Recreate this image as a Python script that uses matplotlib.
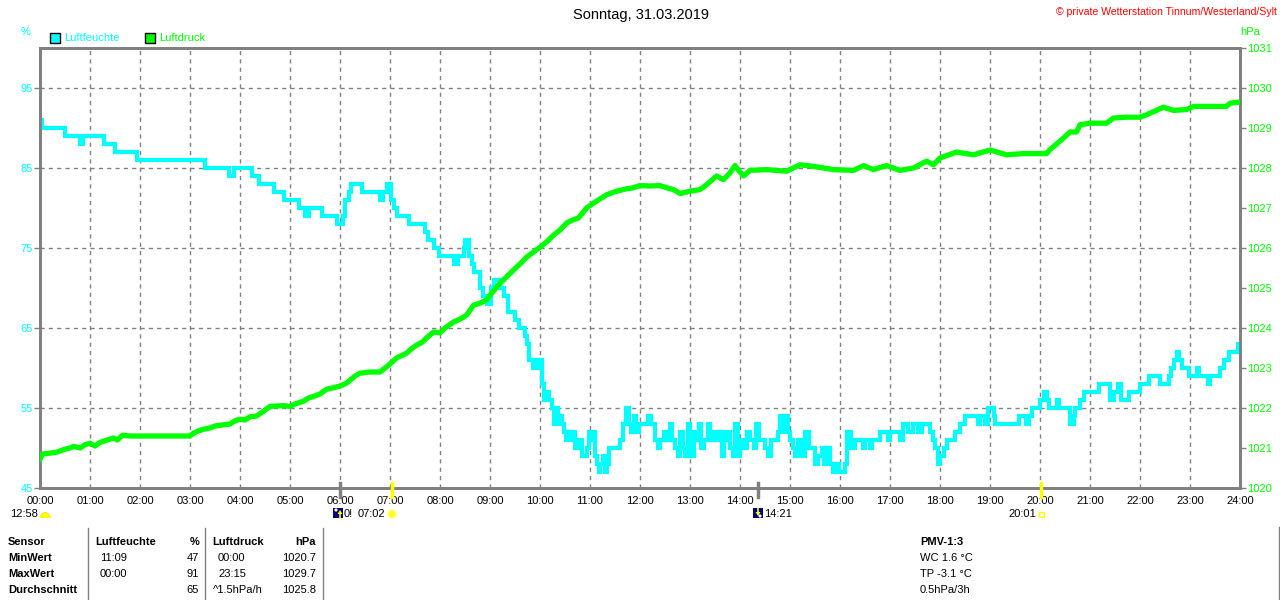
import matplotlib
matplotlib.use("Agg")
import matplotlib.pyplot as plt
from matplotlib.patches import Rectangle, Wedge, Circle, Polygon
import numpy as np

plt.rcParams['font.family'] = ['Liberation Sans', 'DejaVu Sans']

# ---------------- data ----------------
hum_t = [0.0, 0.03, 0.5, 0.8, 0.86, 1.27, 1.5, 1.57, 1.93, 3.3, 3.77, 3.87, 4.23, 4.37, 4.67,
         4.87, 5.17, 5.3, 5.37, 5.63, 5.93, 6.05, 6.1, 6.17, 6.22, 6.44, 6.8, 6.85, 6.93, 7.02,
         7.07, 7.13, 7.37, 7.7, 7.75, 7.87, 7.97, 8.28, 8.35, 8.47, 8.5, 8.58, 8.63, 8.67, 8.8,
         8.87, 8.93, 9.03, 9.07, 9.2, 9.27, 9.35, 9.5, 9.57, 9.7, 9.73, 9.78, 9.85, 9.88, 9.95,
         10.0, 10.03, 10.07, 10.1, 10.17, 10.23, 10.27, 10.3, 10.35, 10.4, 10.43, 10.47, 10.52,
         10.55, 10.6, 10.65, 10.7, 10.77, 10.83, 10.93, 10.97, 11.0, 11.05, 11.1, 11.13, 11.17,
         11.2, 11.25, 11.3, 11.33, 11.37, 11.6, 11.65, 11.72, 11.78, 11.82, 11.87, 11.92, 11.97,
         12.15, 12.22, 12.3, 12.35, 12.4, 12.47, 12.52, 12.6, 12.63, 12.7, 12.75, 12.8, 12.85,
         12.9, 12.95, 13.0, 13.03, 13.08, 13.12, 13.17, 13.22, 13.28, 13.35, 13.4, 13.45, 13.5,
         13.57, 13.63, 13.68, 13.72, 13.8, 13.85, 13.9, 13.95, 14.0, 14.07, 14.13, 14.2, 14.27,
         14.32, 14.37, 14.5, 14.55, 14.62, 14.75, 14.8, 14.85, 14.9, 14.95, 15.0, 15.05, 15.1,
         15.15, 15.22, 15.3, 15.37, 15.5, 15.55, 15.63, 15.68, 15.75, 15.8, 15.85, 15.92, 15.97,
         16.1, 16.15, 16.22, 16.3, 16.45, 16.5, 16.6, 16.65, 16.8, 16.95, 17.0, 17.2, 17.25,
         17.35, 17.45, 17.55, 17.65, 17.8, 17.85, 17.9, 17.95, 18.0, 18.07, 18.15, 18.3, 18.4,
         18.5, 18.75, 18.8, 18.9, 18.95, 19.07, 19.1, 19.57, 19.72, 19.77, 19.83, 20.0, 20.07,
         20.13, 20.17, 20.33, 20.37, 20.6, 20.67, 20.7, 20.8, 20.87, 21.17, 21.4, 21.47, 21.55,
         21.62, 21.77, 22.0, 22.17, 22.4, 22.57, 22.62, 22.67, 22.73, 22.78, 22.83, 22.97, 23.13,
         23.17, 23.35, 23.4, 23.6, 23.67, 23.77, 23.95, 24.0]
hum_v = [91, 90, 89, 88, 89, 88, 87, 87, 86, 85, 84, 85, 84, 83, 82,
         81, 80, 79, 80, 79, 78, 79, 81, 82, 83, 82, 81, 82, 83, 81,
         80, 79, 78, 77, 76, 75, 74, 73, 74, 75, 76, 74, 73, 72, 70,
         69, 68, 70, 71, 70, 69, 67, 66, 65, 64, 63, 61, 60, 61, 60,
         61, 58, 56, 57, 56, 55, 53, 55, 53, 54, 53, 52, 51,
         52, 51, 52, 50, 51, 49, 50, 52, 51, 52, 49, 48, 47,
         48, 49, 47, 48, 50, 51, 53, 55, 53, 52, 54, 52, 53,
         54, 53, 51, 50, 51, 52, 51, 53, 51, 50, 49, 52, 50,
         49, 53, 50, 49, 52, 51, 53, 50, 51, 53, 51, 52, 51,
         52, 49, 51, 52, 50, 49, 53, 49, 51, 50, 52, 51, 50,
         53, 51, 50, 49, 51, 52, 54, 52, 54, 52, 51, 50, 49,
         51, 49, 52, 50, 48, 49, 50, 48, 50, 48, 47, 48, 47,
         48, 52, 50, 51, 50, 51, 50, 51, 52, 51, 52, 51, 53,
         52, 53, 52, 53, 52, 51, 50, 48, 49, 50, 51, 52, 53,
         54, 53, 54, 53, 55, 54, 53, 54, 53, 54, 55, 56, 57,
         56, 55, 56, 55, 53, 54, 55, 56, 57, 58, 56, 57, 58,
         56, 57, 58, 59, 58, 59, 60, 61, 62, 61, 60, 59, 60,
         59, 58, 59, 60, 61, 62, 63, 63]

pres_t = [0.0, 0.05, 0.2, 0.35, 0.47, 0.6, 0.67, 0.8, 0.9, 1.0, 1.1, 1.2, 1.35, 1.47, 1.55,
          1.65, 1.73, 1.8, 3.0, 3.07, 3.15, 3.27, 3.4, 3.5, 3.67, 3.8, 3.9, 4.0, 4.1, 4.2,
          4.33, 4.45, 4.6, 4.75, 4.87, 5.0, 5.1, 5.27, 5.37, 5.47, 5.6, 5.73, 5.85, 6.0, 6.13,
          6.3, 6.4, 6.6, 6.8, 6.9, 7.0, 7.13, 7.33, 7.45, 7.53, 7.65, 7.73, 7.87, 8.0, 8.1,
          8.27, 8.4, 8.53, 8.67, 8.8, 8.93, 9.05, 9.2, 9.35, 9.47, 9.6, 9.73, 9.87, 10.0, 10.13,
          10.27, 10.4, 10.53, 10.65, 10.77, 10.93, 11.13, 11.33, 11.53, 11.73, 11.85, 12.0, 12.2,
          12.4, 12.55, 12.67, 12.8, 13.0, 13.2, 13.33, 13.53, 13.67, 13.8, 13.9, 14.0, 14.07,
          14.2, 14.53, 14.93, 15.2, 15.47, 15.87, 16.27, 16.47, 16.67, 16.93, 17.2, 17.47, 17.73,
          17.87, 18.0, 18.33, 18.67, 19.0, 19.33, 19.67, 20.13, 20.2, 20.4, 20.6, 20.73, 20.8,
          21.0, 21.33, 21.47, 21.73, 22.0, 22.13, 22.33, 22.47, 22.67, 22.93, 23.07, 23.33, 23.47,
          23.73, 23.8, 24.0]
pres_v = [1020.72, 1020.85, 1020.87, 1020.9, 1020.96, 1021.0, 1021.04, 1021.0, 1021.08, 1021.12,
          1021.05, 1021.14, 1021.2, 1021.25, 1021.2, 1021.32, 1021.31, 1021.3, 1021.3, 1021.37,
          1021.42, 1021.47, 1021.5, 1021.55, 1021.58, 1021.6, 1021.68, 1021.72, 1021.7, 1021.78,
          1021.8, 1021.9, 1022.04, 1022.05, 1022.06, 1022.04, 1022.1, 1022.17, 1022.25, 1022.29,
          1022.35, 1022.47, 1022.5, 1022.55, 1022.62, 1022.8, 1022.87, 1022.9, 1022.9, 1023.0,
          1023.1, 1023.25, 1023.37, 1023.5, 1023.57, 1023.65, 1023.75, 1023.9, 1023.88, 1024.0,
          1024.15, 1024.22, 1024.32, 1024.57, 1024.62, 1024.7, 1024.9, 1025.12, 1025.3, 1025.45,
          1025.6, 1025.77, 1025.9, 1026.02, 1026.15, 1026.32, 1026.45, 1026.62, 1026.7, 1026.75,
          1027.0, 1027.17, 1027.33, 1027.42, 1027.48, 1027.5, 1027.56, 1027.55, 1027.56, 1027.5,
          1027.46, 1027.36, 1027.42, 1027.46, 1027.58, 1027.8, 1027.71, 1027.88, 1028.06, 1027.9,
          1027.8, 1027.94, 1027.96, 1027.92, 1028.08, 1028.04, 1027.96, 1027.94, 1028.06, 1027.96,
          1028.06, 1027.94, 1028.0, 1028.17, 1028.08, 1028.25, 1028.4, 1028.33, 1028.45, 1028.33,
          1028.36, 1028.36, 1028.46, 1028.67, 1028.9, 1028.9, 1029.08, 1029.12, 1029.12, 1029.25,
          1029.27, 1029.27, 1029.33, 1029.44, 1029.52, 1029.44, 1029.46, 1029.54, 1029.54, 1029.54,
          1029.54, 1029.62, 1029.65]

hum_ticks = [45, 55, 65, 75, 85, 95]
pres_ticks = list(range(1020, 1032))
hour_labels = ["%02d:00" % h for h in range(25)]

title = "Sonntag, 31.03.2019"
copyright_txt = "\u00a9 private Wetterstation Tinnum/Westerland/Sylt"

table_rows = ["Sensor", "MinWert", "MaxWert", "Durchschnitt"]
hum_col_time = ["", "11:09", "00:00", ""]
hum_col_val = ["%", "47", "91", "65"]
pres_col_time = ["", "00:00", "23:15", "^1.5hPa/h"]
pres_col_val = ["hPa", "1020.7", "1029.7", "1025.8"]
pmv_lines = ["PMV-1:3", "WC 1.6 \u00b0C", "TP -3.1 \u00b0C", "0.5hPa/3h"]

# ---------------- figure ----------------
W, H = 1280, 600
fig = plt.figure(figsize=(W / 100, H / 100), dpi=100)
fig.patch.set_facecolor("white")

L, R, T, B = 40, 1240, 48, 488
ax = fig.add_axes([L / W, 1 - B / H, (R - L) / W, (B - T) / H])
ax2 = ax.twinx()

CYAN = "#00ffff"
GREEN = "#00ff00"
GRAY = "#808080"
FS = 8

ax.set_xlim(0, 24)
ax.set_ylim(45, 100)
ax2.set_ylim(1020, 1031)

ax.set_xticks(range(25))
ax.set_xticklabels(hour_labels, fontsize=FS, color="black")
ax.set_yticks(hum_ticks)
ax.set_yticklabels([str(v) for v in hum_ticks], fontsize=FS, color=CYAN)
ax2.set_yticks(pres_ticks)
ax2.set_yticklabels([str(v) for v in pres_ticks], fontsize=FS, color=GREEN)

ax.tick_params(axis="x", length=0, pad=6)
ax.tick_params(axis="y", length=4, color=GRAY, width=1, pad=1)
ax2.tick_params(axis="y", length=4, color=GRAY, width=1, pad=1)

for a in (ax, ax2):
    for s in a.spines.values():
        s.set_color(GRAY)
        s.set_linewidth(2)

ax.grid(True, axis="both", color=GRAY, linestyle=(0, (3, 3)), linewidth=1)
ax.set_axisbelow(True)

ax.plot(hum_t, hum_v, color=CYAN, lw=3, drawstyle="steps-post", solid_joinstyle="miter", zorder=3)
ax2.plot(pres_t, pres_v, color=GREEN, lw=3.8, zorder=3)

# ---------------- overlay in pixel coordinates ----------------
ov = fig.add_axes([0, 0, 1, 1], facecolor="none")
ov.set_xlim(0, W)
ov.set_ylim(H, 0)
ov.axis("off")

ov.text(641, 15, title, ha="center", va="center", fontsize=10.5, color="black")
ov.text(1277, 12, copyright_txt, ha="right", va="center", fontsize=7.6, color="#ff0000")
ov.text(26, 32, "%", ha="center", va="center", fontsize=FS, color=CYAN)
ov.text(1250, 32, "hPa", ha="center", va="center", fontsize=FS, color=GREEN)

ov.add_patch(Rectangle((50, 33), 10, 10, facecolor=CYAN, edgecolor="black", lw=1))
ov.text(64, 38, "Luftfeuchte", ha="left", va="center", fontsize=FS, color=CYAN)
ov.add_patch(Rectangle((145, 33), 10, 10, facecolor=GREEN, edgecolor="black", lw=1))
ov.text(159, 38, "Luftdruck", ha="left", va="center", fontsize=FS, color=GREEN)

# event ticks below the x axis
ov.plot([340, 340], [483, 497], color=GRAY, lw=2.5)
ov.plot([391.5, 391.5], [483, 497], color="#ffff00", lw=2.5)
ov.plot([757.5, 757.5], [483, 497], color=GRAY, lw=2.5)
ov.plot([1041, 1041], [483, 497], color="#ffff00", lw=2.5)

# moon / sun annotations
ov.text(10, 514, "12:58", ha="left", va="center", fontsize=FS, color="black")
ov.add_patch(Wedge((45, 517), 4.5, 180, 360, facecolor="#ffff00", edgecolor="#e0e000", lw=0.5))
ov.add_patch(Rectangle((40, 516), 11, 2, facecolor="#ffff00", edgecolor="none"))

ov.add_patch(Rectangle((333, 508), 10, 10, facecolor="#000080", edgecolor="none"))
ov.add_patch(Circle((336, 510), 1.6, facecolor="white", edgecolor="none"))
ov.add_patch(Polygon([[340, 510], [337.5, 514], [342.5, 514]], facecolor="#ffff00", edgecolor="none"))
ov.plot([340, 340], [513, 518], color="#ffff00", lw=1.2)
ov.text(344, 514, "0!", ha="left", va="center", fontsize=FS, color="black")
ov.text(358, 514, "07:02", ha="left", va="center", fontsize=FS, color="black")
ov.add_patch(Circle((392, 514), 3.5, facecolor="#ffff00", edgecolor="#ffff60", lw=1.5))

ov.add_patch(Rectangle((753, 508), 10, 10, facecolor="#000080", edgecolor="none"))
ov.add_patch(Circle((760, 516), 1.6, facecolor="white", edgecolor="none"))
ov.add_patch(Polygon([[755.5, 512], [758, 516], [760.5, 512]], facecolor="#ffff00", edgecolor="none"))
ov.plot([758, 758], [508, 513], color="#ffff00", lw=1.2)
ov.text(764, 514, "14:21", ha="left", va="center", fontsize=FS, color="black")

ov.text(1008, 514, "20:01", ha="left", va="center", fontsize=FS, color="black")
ov.add_patch(Rectangle((1038.5, 511.5), 5, 5, facecolor="none", edgecolor="#ffff00", lw=1))

# ---------------- table ----------------
row_y = [542, 558, 574, 590]
for i, y in enumerate(row_y):
    ov.text(8, y, table_rows[i], ha="left", va="center", fontsize=FS, fontweight="bold", color="black")
    bold = "bold" if i == 0 else "normal"
    if i == 0:
        ov.text(95, y, "Luftfeuchte", ha="left", va="center", fontsize=FS, fontweight="bold")
        ov.text(212, y, "Luftdruck", ha="left", va="center", fontsize=FS, fontweight="bold")
    ov.text(100, y, hum_col_time[i], ha="left", va="center", fontsize=FS)
    ov.text(199, y, hum_col_val[i], ha="right", va="center", fontsize=FS, fontweight=bold)
    ov.text(218 if i < 3 else 213, y, pres_col_time[i], ha="left", va="center", fontsize=FS)
    ov.text(316, y, pres_col_val[i], ha="right", va="center", fontsize=FS, fontweight=bold)
    ov.text(920, y, pmv_lines[i], ha="left", va="center", fontsize=FS,
            fontweight="bold" if i == 0 else "normal")

for xs in (88, 205, 323):
    ov.plot([xs, xs], [528, 600], color=GRAY, lw=1)
ov.plot([1278.5, 1278.5], [527, 600], color=GRAY, lw=1)

fig.savefig("out.png", dpi=100, facecolor="white")
